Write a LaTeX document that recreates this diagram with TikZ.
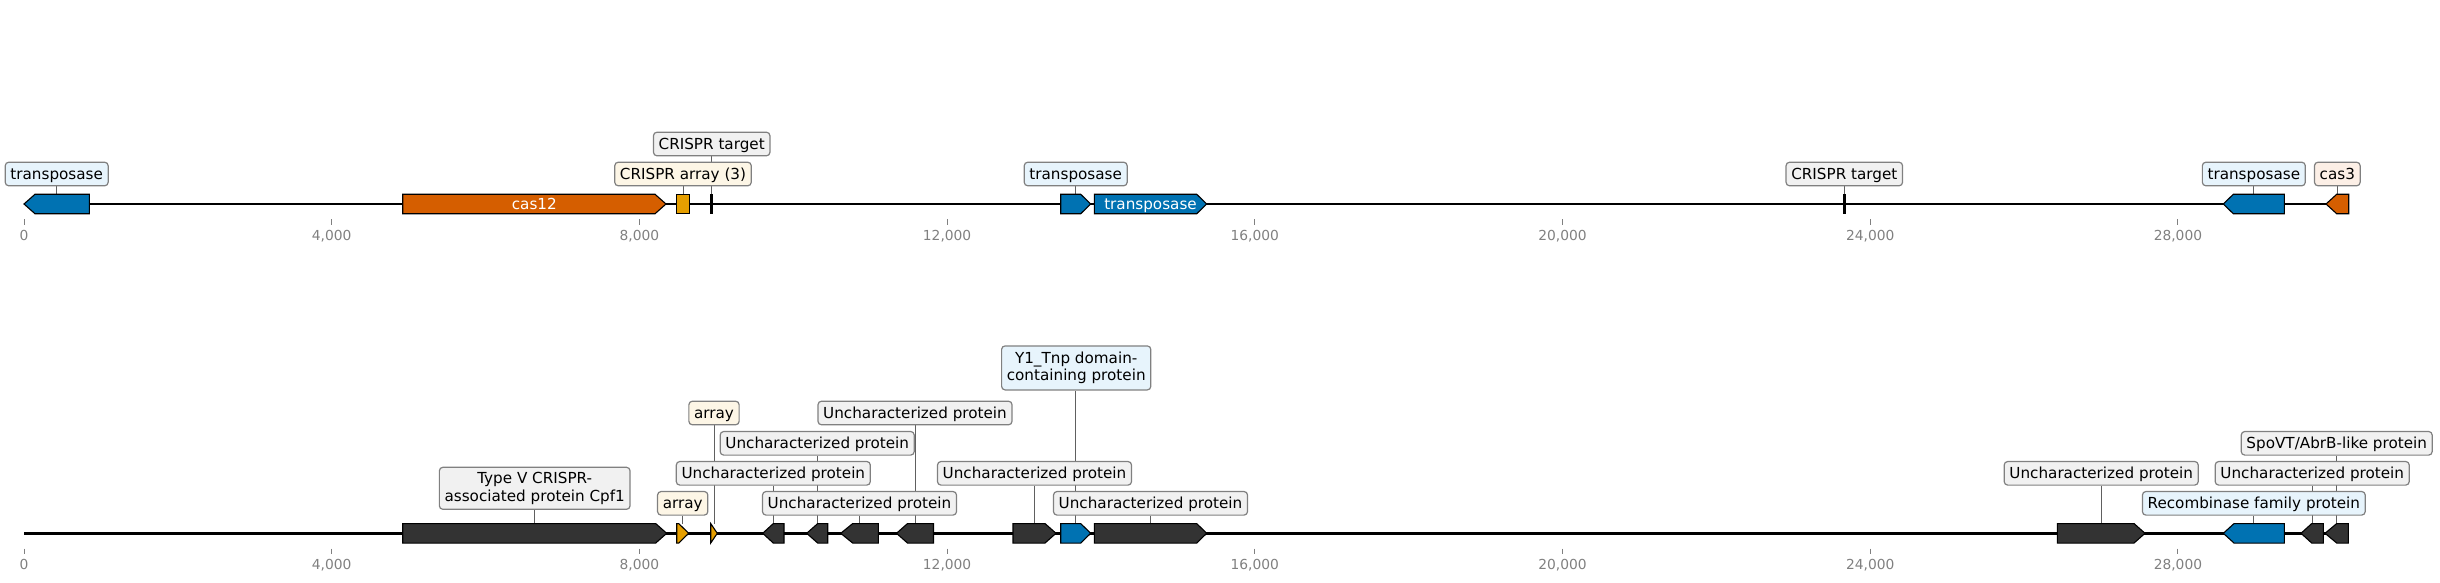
\documentclass[tikz,border=0pt]{standalone}
\usepackage{fontspec}
\setmainfont{DejaVu Sans}
\usetikzlibrary{backgrounds}
\definecolor{cblue}{HTML}{0072B2}
\definecolor{corange}{HTML}{D55E00}
\definecolor{cgold}{HTML}{E69F00}
\definecolor{cdark}{HTML}{333333}
\definecolor{lblue}{HTML}{E7F4FC}
\definecolor{lorange}{HTML}{FCEFE6}
\definecolor{lgold}{HTML}{FDF6E6}
\definecolor{lgray}{HTML}{F1F1F1}
\definecolor{bordergray}{HTML}{808080}
\definecolor{tickgray}{HTML}{808080}
\definecolor{conngray}{HTML}{606060}
\tikzset{
  lab/.style={draw=bordergray, line width=1.2pt, rounded corners=3.5pt,
    inner xsep=5.2pt, inner ysep=3.8pt, text height=13pt, text depth=3pt,
    font=\fontsize{15.2}{17.6}\selectfont, text=black},
  labtwo/.style={draw=bordergray, line width=1.2pt, rounded corners=3.5pt,
    inner xsep=5.2pt, inner ysep=4pt, align=center,
    font=\fontsize{15.2}{17.6}\selectfont, text=black},
  conn/.style={draw=conngray, line width=1pt},
  feat/.style={draw=black, line width=1.1pt},
  tk/.style={draw=tickgray, line width=1pt},
  tklab/.style={text=tickgray, font=\fontsize{13.8}{16}\selectfont, anchor=base, inner sep=0pt},
  inlab/.style={text=white, font=\fontsize{15.2}{17.6}\selectfont, anchor=base, inner sep=0pt},
  axisline/.style={draw=black, line width=2.7pt},
  markline/.style={draw=black, line width=2.6pt},
}
\newcommand\featF[5]{\filldraw[feat,fill=#5] ({#2},{#1-9.75}) -- ({#3-#4},{#1-9.75}) -- ({#3},{#1}) -- ({#3-#4},{#1+9.75}) -- ({#2},{#1+9.75}) -- cycle;}
\newcommand\featR[5]{\filldraw[feat,fill=#5] ({#3},{#1-9.75}) -- ({#2+#4},{#1-9.75}) -- ({#2},{#1}) -- ({#2+#4},{#1+9.75}) -- ({#3},{#1+9.75}) -- cycle;}
\begin{document}
\begin{tikzpicture}[x=1pt,y=-1pt]
\useasboundingbox (0,0) rectangle (2440,582);
% axis lines
\draw[axisline] (24,204) -- (2348.5,204);
\draw[axisline] (24,533.3) -- (2348.5,533.3);
% ticks
\foreach \k/\t in {0/0,1/{4,000},2/{8,000},3/{12,000},4/{16,000},5/{20,000},6/{24,000},7/{28,000}}{
  \draw[tk] ({24+\k*307.7},219.3) -- ({24+\k*307.7},224.5);
  \node[tklab] at ({24+\k*307.7},240.5) {\t};
  \draw[tk] ({24+\k*307.7},548.6) -- ({24+\k*307.7},553.8);
  \node[tklab] at ({24+\k*307.7},569.8) {\t};
}
% ---------------- top features
\featR{204}{24}{89.3}{11}{cblue}
\featF{204}{402.7}{666}{11}{corange}
\filldraw[feat,fill=cgold] (676.7,194.25) rectangle (689.3,213.75);
\draw[markline] (711.7,194.25) -- (711.7,213.75);
\featF{204}{1060.7}{1090.7}{10}{cblue}
\featF{204}{1094.3}{1206.7}{10}{cblue}
\draw[markline] (1844.3,194.25) -- (1844.3,213.75);
\featR{204}{2223.3}{2284.3}{10}{cblue}
\featR{204}{2326}{2348.7}{10.7}{corange}
\node[inlab] at (534.3,209.3) {cas12};
\node[inlab] at (1150.5,209.3) {transposase};
% top feature anchors
\coordinate (fT1) at (56.7,194.25);
\coordinate (fT3) at (683,194.25);
\coordinate (fT4) at (711.7,194.25);
\coordinate (fT5) at (1075.7,194.25);
\coordinate (fT7) at (1844.3,194.25);
\coordinate (fT8) at (2253.8,194.25);
\coordinate (fT9) at (2337.3,194.25);
% top labels
\node[lab,fill=lblue] (lT1) at (56.7,174) {transposase};
\node[lab,fill=lgold] (lT3) at (683,174) {CRISPR array (3)};
\node[lab,fill=lgray] (lT4) at (711.7,144) {CRISPR target};
\node[lab,fill=lblue] (lT5) at (1075.7,174) {transposase};
\node[lab,fill=lgray] (lT7) at (1844.3,174) {CRISPR target};
\node[lab,fill=lblue] (lT8) at (2253.8,174) {transposase};
\node[lab,fill=lorange] (lT9) at (2337.3,174) {cas3};
% ---------------- bottom features
\featF{533.3}{402.7}{666.7}{11}{cdark}
\featF{533.3}{676.7}{688.7}{10}{cgold}
\featF{533.3}{710.7}{717.3}{6.6}{cgold}
\featR{533.3}{762.7}{784}{10.6}{cdark}
\featR{533.3}{806.7}{827.7}{11}{cdark}
\featR{533.3}{840.7}{878.3}{12}{cdark}
\featR{533.3}{896.5}{933.5}{11}{cdark}
\featF{533.3}{1013}{1056}{11}{cdark}
\featF{533.3}{1060.7}{1090.7}{10}{cblue}
\featF{533.3}{1094.3}{1206.7}{10}{cdark}
\featF{533.3}{2057.3}{2145}{11}{cdark}
\featR{533.3}{2223.3}{2284.3}{10.7}{cblue}
\featR{533.3}{2301}{2323.3}{10.7}{cdark}
\featR{533.3}{2325}{2348.3}{11.7}{cdark}
% bottom feature anchors
\coordinate (fB1) at (534.7,523.55);
\coordinate (fB2) at (682.7,523.55);
\coordinate (fB3) at (714,523.55);
\coordinate (fB4) at (773.3,523.55);
\coordinate (fB5) at (817.2,523.55);
\coordinate (fB6) at (859.5,523.55);
\coordinate (fB7) at (915,523.55);
\coordinate (fB8) at (1034.5,523.55);
\coordinate (fB9) at (1075.7,523.55);
\coordinate (fB10) at (1150.5,523.55);
\coordinate (fB11) at (2101.2,523.55);
\coordinate (fB12) at (2253.8,523.55);
\coordinate (fB13) at (2312.2,523.55);
\coordinate (fB14) at (2336.7,523.55);
% bottom labels
\node[labtwo,fill=lgray,minimum height=42pt] (lB1) at (534.7,488.3) {Type V CRISPR-\\associated protein Cpf1};
\node[lab,fill=lgold] (lB2) at (682.7,503.3) {array};
\node[lab,fill=lgold] (lB3) at (714,413) {array};
\node[lab,fill=lgray] (lB4) at (773.3,473.3) {Uncharacterized protein\ };
\node[lab,fill=lgray] (lB5) at (817.2,443.3) {Uncharacterized protein\ };
\node[lab,fill=lgray] (lB6) at (859.5,503.3) {Uncharacterized protein\ };
\node[lab,fill=lgray] (lB7) at (915,413) {Uncharacterized protein\ };
\node[lab,fill=lgray] (lB8) at (1034.5,473.3) {Uncharacterized protein\ };
\node[labtwo,fill=lblue,minimum height=44pt] (lB9) at (1076.2,367.9) {Y1\_Tnp domain-\\containing protein};
\node[lab,fill=lgray] (lB10) at (1150.5,503.3) {Uncharacterized protein\ };
\node[lab,fill=lgray] (lB11) at (2101.2,473.3) {Uncharacterized protein\ };
\node[lab,fill=lblue] (lB12) at (2253.8,503.3) {Recombinase family protein\ };
\node[lab,fill=lgray] (lB13) at (2312.2,473.3) {Uncharacterized protein\ };
\node[lab,fill=lgray] (lB14) at (2336.7,443.3) {SpoVT/AbrB-like protein\ };
% connectors, behind the boxes
\begin{pgfonlayer}{background}
\foreach \n in {T1,T3,T4,T5,T7,T8,T9,B1,B2,B3,B4,B5,B6,B7,B8,B9,B10,B11,B12,B13,B14}{
  \draw[conn] (f\n |- l\n.south) -- (f\n);
}
\end{pgfonlayer}
\end{tikzpicture}
\end{document}
